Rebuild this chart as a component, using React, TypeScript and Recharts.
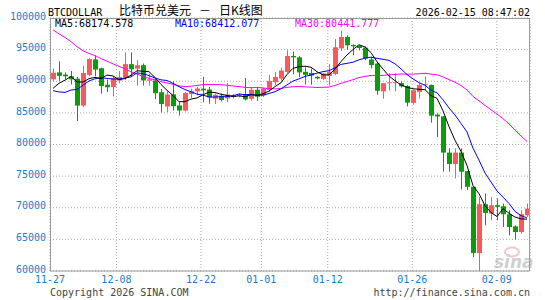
import React from 'react';
import { ComposedChart, Bar, Line, XAxis, YAxis, CartesianGrid } from 'recharts';

const dates = [
  '11-27', '11-28', '11-29', '11-30',
  '12-01', '12-02', '12-03', '12-04', '12-05', '12-06', '12-07', '12-08', '12-09', '12-10',
  '12-11', '12-12', '12-13', '12-14', '12-15', '12-16', '12-17', '12-18', '12-19', '12-20',
  '12-21', '12-22', '12-23', '12-24', '12-25', '12-26', '12-27', '12-28', '12-29', '12-30', '12-31',
  '01-01', '01-02', '01-03', '01-04', '01-05', '01-06', '01-07', '01-08', '01-09', '01-10',
  '01-11', '01-12', '01-13', '01-14', '01-15', '01-16', '01-17', '01-18', '01-19', '01-20',
  '01-21', '01-22', '01-23', '01-24', '01-25', '01-26', '01-27', '01-28', '01-29', '01-30', '01-31',
  '02-01', '02-02', '02-03', '02-04', '02-05', '02-06', '02-07', '02-08', '02-09', '02-10',
  '02-11', '02-12', '02-13', '02-14',
];

const opens = [
  90300, 91400, 91050, 90780, 90400, 86150, 91000, 93450, 92050, 89450,
  89080, 90100, 90600, 92700, 92000, 92540, 90080, 90130, 88260, 86000,
  87930, 86170, 85370, 87980, 88400, 88830, 88700, 87250, 87720, 87300,
  87500, 87700, 87870, 87230, 88650, 87750, 88650, 89850, 90420, 91480,
  94000, 93780, 91480, 91300, 90700, 90380, 90850, 91150, 95200, 97000,
  95730, 95570, 95310, 93440, 92800, 88400, 89740, 89700, 89700, 89240,
  86580, 88300, 89370, 89420, 84720, 84440, 78720, 76920, 78720, 75800,
  73320, 62830, 70560, 69080, 70400, 70240, 68970, 67060, 66160, 68810,
];
const highs = [
  92000, 93150, 91400, 91620, 90670, 92400, 93650, 94100, 92150, 90250,
  90780, 91600, 94570, 94570, 93340, 92800, 91200, 90450, 88790, 88400,
  90000, 86700, 88300, 88830, 89100, 90690, 89100, 88050, 88050, 89700,
  87950, 88100, 90500, 89100, 89100, 88950, 91000, 91450, 92150, 94900,
  94700, 94000, 92200, 92000, 90800, 91300, 92700, 96700, 98000, 97250,
  95850, 95650, 95520, 93850, 93070, 89700, 91250, 91250, 89950, 89400,
  88680, 89700, 90750, 89470, 84900, 84500, 79400, 79400, 79400, 75800,
  73320, 71720, 72250, 71720, 71460, 70670, 69610, 67220, 69610, 70670,
];
const lows = [
  90000, 90050, 90350, 89500, 83700, 85900, 90780, 90780, 88030, 88300,
  87600, 89700, 90200, 90660, 89320, 89320, 89300, 87190, 85050, 85100,
  85370, 84580, 85210, 87340, 87770, 86700, 86440, 86400, 86800, 86700,
  87300, 87450, 86950, 86950, 86900, 87500, 88300, 89400, 90100, 91300,
  91100, 90650, 89500, 89450, 90300, 90250, 89300, 90950, 94800, 94950,
  94100, 94900, 93330, 92030, 87870, 87240, 88540, 88400, 89000, 86030,
  86300, 87300, 88620, 83450, 81180, 75700, 75700, 74640, 72890, 72780,
  62190, 60000, 67220, 68020, 68020, 66960, 65630, 64950, 65900, 68550,
];
const closes = [
  91350, 90850, 90780, 90300, 86150, 91300, 93500, 91850, 89250, 89050,
  90500, 90650, 92700, 91900, 92540, 90130, 90300, 88100, 86390, 87900,
  86060, 85370, 88140, 88400, 88850, 88560, 87450, 87850, 87020, 87900,
  87750, 87900, 87130, 88650, 87550, 88850, 90050, 90680, 91700, 94000,
  93780, 91400, 91020, 90900, 90450, 91230, 91500, 95370, 97000, 95680,
  95520, 95260, 93600, 92550, 88490, 89690, 89840, 89850, 89190, 86620,
  88570, 89420, 89520, 84560, 84430, 78720, 76920, 78720, 75700, 73320,
  62830, 70560, 69180, 70400, 70140, 68970, 66960, 66160, 68970, 69870,
];
// daily closes before the first visible day (10-29 .. 11-26), used only to warm up the moving averages
const priorCloses = [
  110000, 108300, 109600, 110100, 110600, 106500, 101600, 103900, 101300, 103300,
  102300, 104700, 105900, 103000, 101600, 99700, 94500, 95600, 94200, 92200,
  92900, 91500, 86600, 85100, 84700, 86800, 88300, 87400, 90500,
];

const yTicks = [60000, 65000, 70000, 75000, 80000, 85000, 90000, 95000, 100000];
const xTickLabels = ['11-27', '12-08', '12-22', '01-01', '01-12', '01-26', '02-09'];

const titleCode = 'BTCDOLLAR';
const titleName = '比特币兑美元';
const titleDash = '－';
const titleType = '日K线图';
const timestamp = '2026-02-15 08:47:02';
const ma5Label = 'MA5:68174.578';
const ma10Label = 'MA10:68412.077';
const ma30Label = 'MA30:80441.777';
const copyright = 'Copyright 2026 SINA.COM';
const siteUrl = 'http://finance.sina.com.cn';

const RED = '#f65a5a';
const GREEN = '#0b9b0b';
const AXIS_BLUE = '#1a7ccc';
const GRID = '#aaaaaa';
const MONO = '"DejaVu Sans Mono", "Liberation Mono", monospace';
const CJK = '"Noto Sans CJK SC", "Noto Sans", sans-serif';

const allCloses = [...priorCloses, ...closes];
function movingAvg(n: number, i: number): number {
  const end = priorCloses.length + i;
  let s = 0;
  for (let k = end - n + 1; k <= end; k++) s += allCloses[k];
  return s / n;
}

const data = dates.map((d, i) => ({
  date: d,
  idx: i,
  open: opens[i],
  high: highs[i],
  low: lows[i],
  close: closes[i],
  range: [lows[i], highs[i]],
  ma5: movingAvg(5, i),
  ma10: movingAvg(10, i),
  ma30: movingAvg(30, i),
}));

const xTickIdx = xTickLabels.map((l) => dates.indexOf(l));

const Candle = (props: any) => {
  const { x, y, width, height, payload } = props;
  if (!payload || height == null || x == null) return null;
  const { open, close, high, low } = payload;
  const color = close >= open ? RED : GREEN;
  const yTop = height < 0 ? y + height : y;
  const h = Math.abs(height);
  const k = h / (high - low || 1);
  const yO = yTop + (high - open) * k;
  const yC = yTop + (high - close) * k;
  const left = Math.round(x);
  const w = Math.max(1, Math.round(width));
  const cx = left + Math.floor(w / 2) + 0.5;
  const top = Math.min(yO, yC);
  const bh = Math.max(1, Math.abs(yO - yC));
  return (
    <g>
      <line x1={cx} x2={cx} y1={yTop} y2={yTop + h} stroke={color} strokeWidth={1} />
      <rect x={left} y={top} width={w} height={bh} fill={color} />
    </g>
  );
};

const YTick = (props: any) => {
  const { y, payload } = props;
  return (
    <text x={46} y={y + 1.7} textAnchor="end" fontFamily={MONO} fontSize={10} fill={AXIS_BLUE}>
      {payload.value}
    </text>
  );
};

const XTick = (props: any) => {
  const { x, payload } = props;
  return (
    <text x={x} y={282.7} textAnchor="middle" fontFamily={MONO} fontSize={10} fill={AXIS_BLUE}>
      {dates[payload.value]}
    </text>
  );
};

export default function App() {
  return (
    <div style={{ position: 'absolute', left: 0, top: 0, width: 545, height: 300, background: '#fff' }}>
      <svg style={{ position: 'absolute', left: 0, top: 0 }} width={545} height={300}>
        <ellipse cx={512} cy={252} rx={7} ry={4.5} fill="none" stroke="#f2c8c8" strokeWidth={2} />
        <text x={494} y={268} fontFamily='"DejaVu Sans", sans-serif' fontStyle="italic" fontWeight="bold" fontSize={17} fill="#d0d0d0">
          sina
        </text>
      </svg>
      <div style={{ position: 'absolute', left: 0, top: 0 }}>
        <ComposedChart width={545} height={300} data={data} margin={{ top: 18, right: 15, bottom: 0, left: 0 }}>
          <CartesianGrid xAxisId="n" yAxisId="p" stroke={GRID} strokeDasharray="1 2" />
          <XAxis xAxisId="c" dataKey="date" type="category" hide />
          <XAxis
            xAxisId="n"
            dataKey="idx"
            type="number"
            domain={[0, dates.length - 1]}
            ticks={xTickIdx}
            padding={{ left: 0, right: 3 }}
            interval={0}
            height={29}
            axisLine={false}
            tickLine={false}
            tick={<XTick />}
          />
          <YAxis
            yAxisId="p"
            domain={[60000, 100000]}
            ticks={yTicks}
            allowDataOverflow
            interval={0}
            width={50}
            axisLine={false}
            tickLine={false}
            tick={<YTick />}
          />
          <Bar xAxisId="c" yAxisId="p" dataKey="range" barSize={5} shape={<Candle />} isAnimationActive={false} />
          <Line xAxisId="c" yAxisId="p" type="linear" dataKey="ma30" stroke="#ff00ff" strokeWidth={1} dot={false} isAnimationActive={false} />
          <Line xAxisId="c" yAxisId="p" type="linear" dataKey="ma10" stroke="#0000ff" strokeWidth={1} dot={false} isAnimationActive={false} />
          <Line xAxisId="c" yAxisId="p" type="linear" dataKey="ma5" stroke="#000000" strokeWidth={1} dot={false} isAnimationActive={false} />
        </ComposedChart>
      </div>
      <svg style={{ position: 'absolute', left: 0, top: 0, pointerEvents: 'none' }} width={545} height={300}>
        <rect x={50.5} y={18.5} width={479} height={252.5} fill="none" stroke="#9a9a9a" strokeWidth={1} />
        <text x={48} y={15.5} fontFamily={MONO} fontSize={10} fill="#000">{titleCode}</text>
        <text x={119} y={15} fontFamily={CJK} fontSize={12} fill="#000">{titleName}</text>
        <text x={199} y={15} fontFamily={CJK} fontSize={12} fill="#000">{titleDash}</text>
        <text x={219} y={15} fontFamily={CJK} fontSize={12} fill="#000">{titleType}</text>
        <text x={530} y={15.5} textAnchor="end" fontFamily={MONO} fontSize={10} fill="#000">{timestamp}</text>
        <text x={55} y={27} fontFamily={MONO} fontSize={10} fill="#000">{ma5Label}</text>
        <text x={175} y={27} fontFamily={MONO} fontSize={10} fill="#0000ff">{ma10Label}</text>
        <text x={295} y={27} fontFamily={MONO} fontSize={10} fill="#ff00ff">{ma30Label}</text>
        <text x={50} y={296.4} fontFamily={MONO} fontSize={10} fill="#444">{copyright}</text>
        <text x={530} y={296.4} textAnchor="end" fontFamily={MONO} fontSize={10} fill="#444">{siteUrl}</text>
      </svg>
    </div>
  );
}
